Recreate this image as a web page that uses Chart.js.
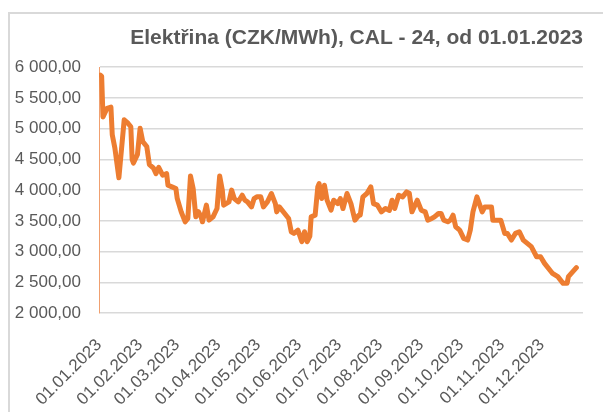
<!DOCTYPE html>
<html>
<head>
<meta charset="utf-8">
<script src="https://cdn.jsdelivr.net/npm/chart.js@4"></script>
<style>
  html, body { margin: 0; padding: 0; background: #fff; }
  #frame {
    position: absolute; left: 8px; top: 12px; width: 700px; height: 500px;
    border: 2px solid #d9d9d9; box-sizing: border-box;
  }
  #chart { position: absolute; left: 0; top: 0; }
</style>
</head>
<body>
<div id="frame"></div>
<canvas id="chart" width="603" height="412"></canvas>
<script>
// Day of year (0 = 01.01.2023) for each point
const days = [
  1, 2, 3, 6, 9, 10, 12, 15, 19, 22, 24, 25, 26, 29, 31, 33, 36, 38, 41, 43,
  45, 48, 51, 52, 55, 58, 59, 62, 65, 67, 69, 71, 73, 75, 77, 78, 81, 83, 86, 89,
  91, 93, 94, 98, 100, 102, 105, 108, 110, 112, 115, 117, 119, 122, 124, 127, 130, 133, 134, 136,
  140, 143, 145, 147, 150, 153, 155, 157, 159, 160, 163, 165, 166, 168, 170, 172, 175, 177, 180, 182,
  184, 187, 190, 193, 196, 197, 199, 202, 205, 207, 210, 213, 216, 219, 221, 223, 226, 229, 232, 234,
  236, 240, 243, 246, 248, 251, 253, 256, 258, 260, 263, 265, 267, 269, 272, 275, 278, 280, 282, 285,
  289, 291, 296, 297, 303, 306, 308, 311, 314, 317, 320, 323, 326, 330, 333, 336, 341, 342, 346, 350,
  353, 354, 360
];

// Price CZK/MWh
const prices = [
  5870, 5850, 5190, 5330, 5350, 4900, 4680, 4200, 5145, 5085, 5030, 4495, 4440, 4580, 5005, 4790, 4710, 4415, 4360, 4268,
  4370, 4242, 4268, 4080, 4052, 4025, 3862, 3646, 3484, 3540, 4230, 4025, 3565, 3650, 3565, 3484, 3755, 3511, 3565, 3700,
  4230, 4000, 3755, 3808, 4000, 3862, 3808, 3917, 3836, 3808, 3727, 3862, 3890, 3890, 3727, 3808, 3944, 3781, 3646, 3727,
  3619, 3538, 3322, 3295, 3349, 3160, 3322, 3160, 3250, 3565, 3592, 4052, 4106, 3862, 4080, 3836, 3673, 3836, 3781, 3862,
  3700, 3944, 3781, 3511, 3592, 3592, 3890, 3944, 4052, 3781, 3755, 3646, 3700, 3670, 3836, 3700, 3917, 3890, 3971, 3950,
  3646, 3836, 3673, 3646, 3511, 3538, 3565, 3619, 3619, 3511, 3484, 3510, 3592, 3403, 3349, 3214, 3187, 3349, 3646, 3890,
  3646, 3727, 3727, 3511, 3511, 3295, 3295, 3187, 3295, 3322, 3187, 3133, 3079, 2916, 2916, 2808, 2672, 2645, 2591, 2483,
  2483, 2591, 2737
];

// X axis ticks: first day of each month
const monthDays = [0, 31, 59, 90, 120, 151, 181, 212, 243, 273, 304, 334];
const monthLabels = [
  "01.01.2023", "01.02.2023", "01.03.2023", "01.04.2023", "01.05.2023", "01.06.2023",
  "01.07.2023", "01.08.2023", "01.09.2023", "01.10.2023", "01.11.2023", "01.12.2023"
];

// Y axis range
const yMin = 2000;
const yMax = 6000;
const yStep = 500;

const titleText = "Elektřina (CZK/MWh), CAL - 24, od 01.01.2023";

const textColor = "#595959";
const gridColor = "#d9d9d9";
const lineColor = "#ED7D31";
const fontFamily = "'Liberation Sans', Arial, sans-serif";

// Czech number format: "6 000,00"
function formatCz(v) {
  return String(v).replace(/\B(?=(\d{3})+(?!\d))/g, " ") + ",00";
}

const points = days.map(function(d, i) { return { x: d, y: prices[i] }; });

new Chart(document.getElementById("chart").getContext("2d"), {
  type: "line",
  data: {
    datasets: [{
      data: points,
      borderColor: lineColor,
      borderWidth: 5,
      pointRadius: 0,
      tension: 0,
      borderJoinStyle: "round",
      borderCapStyle: "round",
      fill: false
    }]
  },
  options: {
    responsive: false,
    animation: false,
    layout: { padding: { left: 13, right: 20, top: 26, bottom: 0 } },
    plugins: {
      legend: { display: false },
      tooltip: { enabled: false },
      title: {
        display: true,
        text: titleText,
        align: "end",
        color: textColor,
        font: { family: fontFamily, size: 21, weight: "bold" },
        padding: { top: 0, bottom: 16 }
      }
    },
    scales: {
      x: {
        type: "linear",
        min: 0,
        max: 365,
        afterBuildTicks: function(axis) {
          axis.ticks = monthDays.map(function(d) { return { value: d }; });
        },
        // rotated labels may hang under the y labels, as in the original
        afterFit: function(axis) {
          axis.paddingRight = 5;
          axis.paddingLeft = 0;
          axis.height = 99;
        },
        grid: { display: false },
        border: { display: false },
        ticks: {
          autoSkip: false,
          minRotation: 45,
          maxRotation: 45,
          padding: 14,
          color: textColor,
          font: { family: fontFamily, size: 17 },
          callback: function(value) {
            const i = monthDays.indexOf(value);
            return i >= 0 ? monthLabels[i] : "";
          }
        }
      },
      y: {
        min: yMin,
        max: yMax,
        afterFit: function(axis) { axis.width = 86; },
        grid: { color: gridColor, lineWidth: 1.5, drawTicks: false },
        border: { display: true, color: "#f0a070", width: 1 },
        ticks: {
          stepSize: yStep,
          padding: 18,
          color: textColor,
          font: { family: fontFamily, size: 17 },
          callback: function(value) { return formatCz(value); }
        }
      }
    }
  }
});
</script>
</body>
</html>
